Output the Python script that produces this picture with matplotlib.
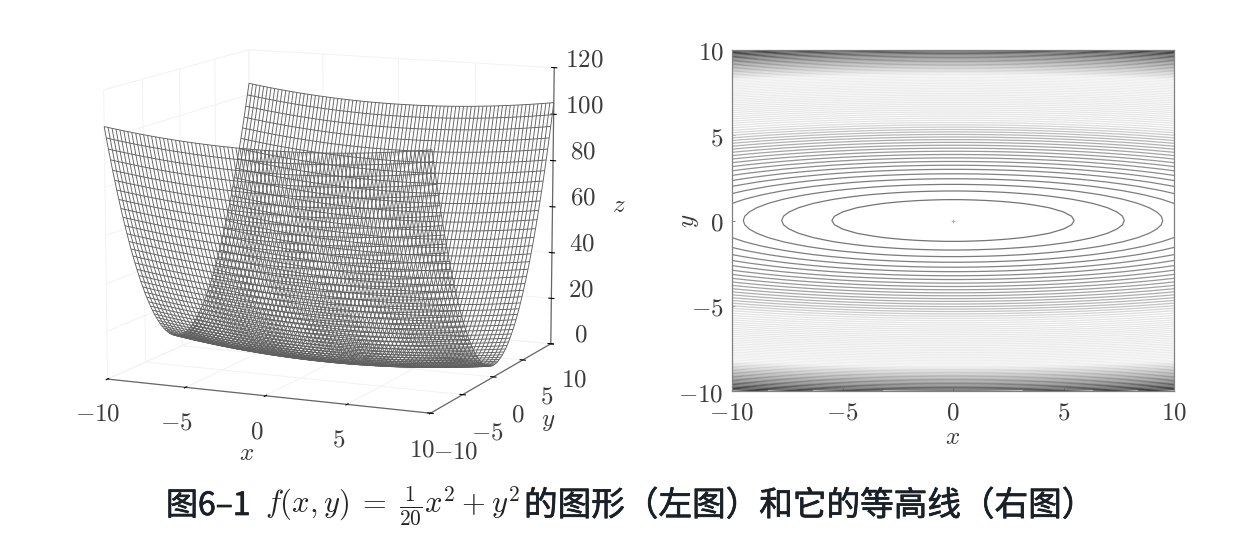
import numpy as np
import matplotlib
matplotlib.use('Agg')
import matplotlib.pyplot as plt
import matplotlib.patheffects as pe
from matplotlib.colors import LinearSegmentedColormap

plt.rcParams['mathtext.fontset'] = 'cm'
plt.rcParams['font.family'] = ['Noto Sans CJK SC', 'DejaVu Sans']

# height of the surface read along each axis, from the centre out to 10 (step 0.25)
z_along_x = [0, 0, .01, .03, .05, .08, .11, .15, .2, .25, .31, .38, .45, .53, .61, .7, .8, .9, 1.01, 1.13,
             1.25, 1.38, 1.51, 1.65, 1.8, 1.95, 2.11, 2.28, 2.45, 2.63, 2.81, 3.0, 3.2, 3.4, 3.61, 3.83,
             4.05, 4.28, 4.51, 4.75, 5.0]
z_along_y = [0, .06, .25, .56, 1, 1.56, 2.25, 3.06, 4, 5.06, 6.25, 7.56, 9, 10.56, 12.25, 14.06, 16, 18.06,
             20.25, 22.56, 25, 27.56, 30.25, 33.06, 36, 39.06, 42.25, 45.56, 49, 52.56, 56.25, 60.06, 64,
             68.06, 72.25, 76.56, 81, 85.56, 90.25, 95.06, 100]

xy_ticks = [-10, -5, 0, 5, 10]
xy_tick_labels = ['$-10$', '$-5$', '$0$', '$5$', '$10$']
z_ticks = [0, 20, 40, 60, 80, 100, 120]
z_tick_labels = ['$0$', '$20$', '$40$', '$60$', '$80$', '$100$', '$120$']
contour_step = 1.5

GRAY = '#666666'
TEXT = '#3c3c3c'
INK = '#1a2027'
FS = 18

# both halves are mirror images
half_x = np.array(z_along_x)
half_y = np.array(z_along_y)
zx = np.r_[half_x[:0:-1], half_x]
zy = np.r_[half_y[:0:-1], half_y]
xs = np.linspace(-10, 10, len(zx))
ys = np.linspace(-10, 10, len(zy))
X, Y = np.meshgrid(xs, ys)
Z = zx[None, :] + zy[:, None]

fig = plt.figure(figsize=(12.44, 5.52), dpi=100)

# left: wireframe surface
ax = fig.add_axes([-0.0169, 0.112, 0.56, 0.95], projection='3d', proj_type='persp', focal_length=1.15)
ax.view_init(elev=10.5, azim=-66)
ax.set_box_aspect((342, 325, 286), zoom=1.026)
ax.plot_wireframe(X, Y, Z, rstride=1, cstride=1, color='#606060', linewidth=0.65)
ax.set_xlim(-10, 10)
ax.set_ylim(-10, 10)
ax.set_zlim(0, 120)
ax.set_xticks(xy_ticks)
ax.set_xticklabels(xy_tick_labels, fontsize=FS, color=TEXT)
ax.set_yticks(xy_ticks)
ax.set_yticklabels(xy_tick_labels, fontsize=FS, color=TEXT)
ax.set_zticks(z_ticks)
ax.set_zticklabels(z_tick_labels, fontsize=FS, color=TEXT, va='baseline')
ax.tick_params(axis='x', pad=4)
ax.tick_params(axis='y', pad=7)
ax.tick_params(axis='z', pad=6)
for axis in (ax.xaxis, ax.yaxis, ax.zaxis):
    axis.set_pane_color((1, 1, 1, 0))
    axis.pane.set_edgecolor('#f0f0f0')
    axis.line.set_color(GRAY)
    axis.line.set_linewidth(0.9)
    axis._axinfo['grid'].update(color='#f2f2f2', linewidth=0.7)
    axis._axinfo['tick'].update(inward_factor=0.1, outward_factor=0.1)
fig.text(247 / 1244, 1 - 453 / 552, '$x$', fontsize=FS, color=TEXT, ha='center', va='center')
fig.text(548 / 1244, 1 - 420 / 552, '$y$', fontsize=FS, color=TEXT, ha='center', va='center')
fig.text(619 / 1244, 1 - 205 / 552, '$z$', fontsize=FS, color=TEXT, ha='center', va='center')

# right: contour lines
ax2 = fig.add_axes([732 / 1244, 1 - 391 / 552, 442 / 1244, 341 / 552])
line_cmap = LinearSegmentedColormap.from_list(
    'lines', [(0, '#747474'), (.1, '#8c8c8c'), (.25, '#bcbcbc'), (.32, '#e4e4e4'), (.7, '#f0f0f0'),
              (.8, '#b8b8b8'), (.9, '#808080'), (1, '#383838')])
levels = np.arange(contour_step, Z.max(), contour_step)
ax2.contour(X, Y, Z, levels=levels, cmap=line_cmap, linewidths=0.9)
ax2.plot([0], [0], marker='+', color='#aaaaaa', markersize=3, markeredgewidth=0.6)
ax2.set_xlim(-10, 10)
ax2.set_ylim(-10, 10)
ax2.set_xticks(xy_ticks)
ax2.set_xticklabels(xy_tick_labels, fontsize=FS, color=TEXT)
ax2.set_yticks(xy_ticks)
ax2.set_yticklabels(xy_tick_labels, fontsize=FS, color=TEXT)
ax2.tick_params(direction='in', length=2.5, width=0.6, color=GRAY)
ax2.tick_params(axis='x', pad=6)
ax2.tick_params(axis='y', pad=6)
ax2.set_xlabel('$x$', fontsize=FS, color=TEXT, va='center')
ax2.set_ylabel('$y$', fontsize=FS, color=TEXT, va='center')
ax2.xaxis.set_label_coords(0.5, -0.135)
ax2.yaxis.set_label_coords(-0.0995, 0.5)
for s in ax2.spines.values():
    s.set_color('#808080')
    s.set_linewidth(0.9)

# caption, pieces placed one after the other
cap_y = 1 - 506 / 552
thicker = [pe.withStroke(linewidth=0.5, foreground=INK)]
fig.text(166 / 1244, cap_y, '图6–1', fontsize=23, color=INK, ha='left', va='center', path_effects=thicker)
fig.text(265 / 1244, cap_y, r'$f(x,y)\;=\;\frac{1}{20}x^2+y^2$', fontsize=22, color='#222222', ha='left', va='center')
fig.text(524 / 1244, cap_y, '的图形（左图）和它的等高线（右图）', fontsize=24.2, color=INK,
         ha='left', va='center', path_effects=thicker)

fig.savefig('out.png', dpi=100)
